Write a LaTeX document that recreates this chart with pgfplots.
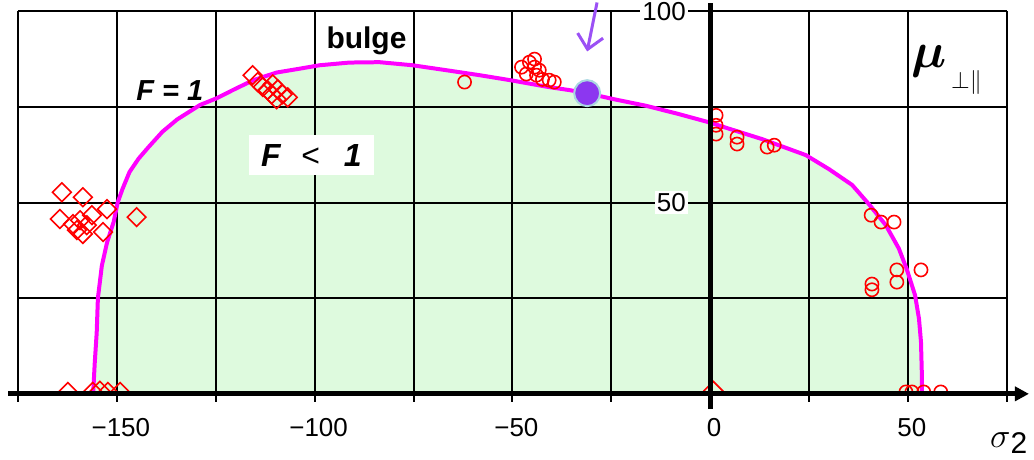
\documentclass[border=0pt]{standalone}
\usepackage{pgfplots}
\pgfplotsset{compat=1.18}
\usepackage{pgfplotstable}
\usepackage{fontspec}
\setmainfont{Liberation Sans}
\usepackage{bm}
\usetikzlibrary{arrows.meta}

\definecolor{fillgreen}{RGB}{222,250,222}
\definecolor{curvemag}{RGB}{255,0,255}
\definecolor{dotpurple}{RGB}{140,55,240}
\definecolor{dotedge}{RGB}{170,215,225}
\definecolor{arrowpurple}{RGB}{155,80,245}

\pgfplotstableread{
x y
-156.0 0
-155.6 8
-155.1 16
-154.8 25
-153.8 33.5
-152.5 39.5
-150.8 45
-149.8 50
-148.6 53.5
-146.8 58
-144.5 61.5
-142.0 64.5
-138.5 68.5
-134.8 71.7
-129.0 75.5
-124.7 77.3
-120.5 79.5
-115.5 82
-109.6 84
-103.8 85
-98.7 85.9
-91.2 86.6
-83.6 86.7
-75.3 85.9
-66.7 84.6
-58.3 83.3
-50.0 81.9
-41.4 80.3
-35.6 79.4
-31.1 78.6
-24.7 77.1
-16.2 75.3
-7.8 73.1
0.0 70.9
4.8 69.3
13.1 66.6
24.2 62.4
30.1 58.7
35.9 54.6
40.2 49.5
44.4 44.1
47.7 38
49.7 32.6
51.8 25.8
52.8 19.6
53.3 13.6
53.5 6
53.5 0
}\curve

\pgfplotstableread{
x y
-115.7 83.3
-114.4 81.5
-113.1 80.2
-111.9 79.4
-110.6 80.9
-109.3 79.6
-108.1 78.3
-106.8 77.5
-109.6 77.0
-110.9 78.3
-163.9 52.7
-158.6 51.4
-152.5 48.3
-164.4 45.7
-145.0 46.2
-159.3 45.4
-157.6 44.1
-160.1 42.8
-158.6 41.8
-153.5 42.3
-156.3 46.7
-161.1 44.4
-162.4 0.5
-156.1 0.5
-154.3 0.8
-152.3 0.5
-149.2 0.5
0.8 0.8
}\diamonds

\pgfplotstableread{
x y
-62.1 81.5
-47.7 85.4
-45.7 86.7
-44.4 87.5
-44.4 85.4
-46.5 83.6
-43.9 83.3
-42.4 82.2
-40.7 82.0
-39.4 81.5
-43.2 84.6
1.5 72.8
1.5 70.2
1.5 67.9
6.8 67.1
6.8 65.3
14.4 64.5
16.2 65.0
40.7 46.7
43.2 44.9
46.5 44.9
47.2 32.4
47.2 29.2
53.3 32.4
40.9 28.7
40.9 27.2
49.5 0.5
51.0 0.5
54.0 0.5
58.3 0.5
}\circles

\begin{document}
\begin{tikzpicture}
\begin{axis}[
  x=1.98pt, y=1.915pt,
  xmin=-175, xmax=75, ymin=0, ymax=100,
  axis lines=middle,
  axis line style={draw=none},
  set layers,
  clip mode=individual,
  clip marker paths=true,
  grid=both,
  grid style={black, line width=1pt},
  minor grid style={black, line width=1pt},
  xtick={-175,-150,...,75},
  xticklabels={,−150,,−100,,−50,,0,,50,},
  ytick={50,100},
  yticklabels={50,100},
  minor ytick={0,25,75},
  hide obscured x ticks=false,
  hide obscured y ticks=false,
  tick style={black, line width=1pt},
  major tick length=4pt,
  minor tick length=4pt,
  tick align=outside,
  ticklabel style={font=\fontsize{13}{13}\selectfont},
  xticklabel style={anchor=center, yshift=-13pt, xshift=2pt},
  yticklabel style={anchor=east, fill=white, inner sep=1pt, xshift=-7pt},
]
\addplot[draw=none, fill=fillgreen, on layer=axis background] table[x=x,y=y]{\curve} \closedcycle;

\node[fill=white, minimum width=62.5pt, minimum height=20pt, inner sep=0pt, font=\fontsize{16}{16}\selectfont] at (axis cs:-100.8,62.4) {\textbf{\textit{F}}\hspace{10pt}<\hspace{12pt}\textbf{\textit{1}}};

\addplot[curvemag, line width=2pt] table[x=x,y=y]{\curve};
\addplot[only marks, mark=square, mark size=3.3pt, mark options={rotate=45, draw=red, line width=0.8pt, fill=none}] table[x=x,y=y]{\diamonds};
\addplot[only marks, mark=o, mark size=3.3pt, mark options={draw=red, line width=0.8pt}] table[x=x,y=y]{\circles};
\addplot[only marks, mark=*, mark size=6.5pt, mark options={fill=dotpurple, draw=dotedge, line width=1pt}] coordinates {(-31.1,78.6)};

\draw[line width=2.5pt, -{Triangle[length=7pt,width=7pt]}] (axis cs:-177.5,0) -- (axis cs:80.6,0);
\draw[line width=2.5pt] (axis cs:0,-3.9) -- (axis cs:0,102.3);

\draw[arrowpurple, line width=1.5pt, -{Straight Barb[length=7pt,width=13pt]}] (axis cs:-28.6,102.3) -- (axis cs:-31.1,89.5);

\node[font=\fontsize{15}{15}\selectfont\bfseries] at (axis cs:-86.9,92.4) {bulge};
\node[font=\fontsize{14.5}{14.5}\selectfont\bfseries\itshape] at (axis cs:-136.6,79.4) {F = 1};
\node at (axis cs:55.3,87.0) {\fontsize{37}{37}\selectfont$\bm{\mu}$};
\node at (axis cs:64.8,81.4) {\fontsize{13}{13}\selectfont$\perp\parallel$};
\node at (axis cs:75.5,-12.8) {{\fontsize{17}{17}\selectfont$\sigma$}\raisebox{-3pt}{\fontsize{15}{15}\selectfont 2}};

\path (axis cs:-179.55,-17.23) rectangle (axis cs:81.57,102.35);
\end{axis}
\end{tikzpicture}
\end{document}
